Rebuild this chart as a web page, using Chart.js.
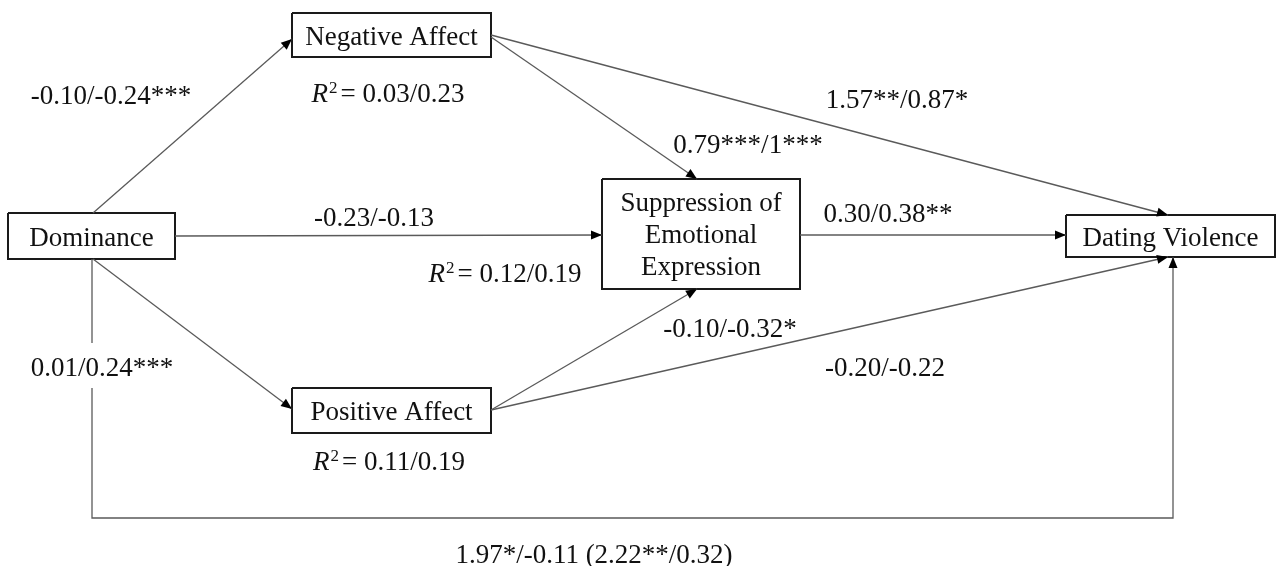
<!DOCTYPE html>
<html>
<head>
<meta charset="utf-8">
<title>Path model: dominance and dating violence</title>
<script src="https://cdn.jsdelivr.net/npm/chart.js@4"></script>
<style>
  html, body { margin: 0; padding: 0; background: #fff; }
  #wrap { width: 1280px; height: 566px; }
</style>
</head>
<body>
<div id="wrap"><canvas id="chart"></canvas></div>
<script>
// --- data ---
const nodeNames = ["Negative Affect", "Dominance", "Suppression of|Emotional|Expression", "Dating Violence", "Positive Affect"];
const pathCoefficients = ["-0.10/-0.24***", "-0.23/-0.13", "0.01/0.24***", "0.79***/1***", "1.57**/0.87*", "0.30/0.38**", "-0.10/-0.32*", "-0.20/-0.22"];
const directEffect = "1.97*/-0.11 (2.22**/0.32)";
const r2Values = ["0.03/0.23", "0.12/0.19", "0.11/0.19"];

// --- layout (diagram space = pixels, y downwards) ---
const boxes = [
  [292, 13, 491, 57],
  [8, 213, 175, 259],
  [602, 179, 800, 289],
  [1066, 215, 1275, 257],
  [292, 388, 491, 433]
];
const nodeBaselines = [[45], [246], [211, 243, 275], [246], [420]];

const routes = [
  { pts: [[93, 213], [292, 39]], arrow: true },
  { pts: [[175, 236], [602, 235]], arrow: true },
  { pts: [[93, 259], [292, 409]], arrow: true },
  { pts: [[491, 37], [697, 179]], arrow: true },
  { pts: [[491, 35], [1168, 215]], arrow: true },
  { pts: [[800, 235], [1066, 235]], arrow: true },
  { pts: [[491, 410], [697, 289]], arrow: true },
  { pts: [[491, 410], [1168, 257]], arrow: true },
  { pts: [[92, 259], [92, 343]], arrow: false },
  { pts: [[92, 388], [92, 518], [1173, 518], [1173, 257]], arrow: true }
];

const coefAnchors = [[111, 104], [374, 226], [102, 376], [748, 153], [897, 108], [888, 222], [730, 337], [885, 376]];
const directAnchor = [594, 563];
const r2Anchors = [[388, 102], [505, 282], [389, 470]];

const FONT = '"Liberation Serif", "Times New Roman", serif';
const INK = "#111";

const datasets = [];
routes.forEach((r, i) => {
  datasets.push({
    label: "path" + i,
    data: r.pts.map(p => ({ x: p[0], y: p[1] })),
    showLine: true,
    borderColor: "#5a5a5a",
    borderWidth: 1.3,
    pointRadius: 0,
    arrow: r.arrow
  });
});
boxes.forEach((b, i) => {
  datasets.push({
    label: "box" + i,
    data: [
      { x: b[0], y: b[1] }, { x: b[2], y: b[1] }, { x: b[2], y: b[3] },
      { x: b[0], y: b[3] }, { x: b[0], y: b[1] }
    ],
    showLine: true,
    borderColor: "#1a1a1a",
    borderWidth: 2,
    pointRadius: 0,
    arrow: false
  });
});

const diagramPlugin = {
  id: "diagram",
  afterDatasetsDraw(chart) {
    const ctx = chart.ctx;
    const sx = v => chart.scales.x.getPixelForValue(v);
    const sy = v => chart.scales.y.getPixelForValue(v);

    // arrowheads at the end of each path
    chart.data.datasets.forEach(ds => {
      if (!ds.arrow) return;
      const n = ds.data.length;
      const a = ds.data[n - 2], b = ds.data[n - 1];
      const x1 = sx(a.x), y1 = sy(a.y), x2 = sx(b.x), y2 = sy(b.y);
      const ang = Math.atan2(y2 - y1, x2 - x1);
      const len = 11, half = 4.5;
      ctx.save();
      ctx.translate(x2, y2);
      ctx.rotate(ang);
      ctx.beginPath();
      ctx.moveTo(0, 0);
      ctx.lineTo(-len, -half);
      ctx.lineTo(-len, half);
      ctx.closePath();
      ctx.fillStyle = "#000";
      ctx.fill();
      ctx.restore();
    });

    ctx.save();
    ctx.fillStyle = INK;
    ctx.textAlign = "center";
    ctx.textBaseline = "alphabetic";
    ctx.font = "27px " + FONT;

    // node names
    nodeNames.forEach((name, i) => {
      const b = boxes[i];
      const cx = sx((b[0] + b[2]) / 2);
      name.split("|").forEach((line, k) => {
        ctx.fillText(line, cx, sy(nodeBaselines[i][k]));
      });
    });

    // path coefficients
    pathCoefficients.forEach((t, i) => {
      ctx.fillText(t, sx(coefAnchors[i][0]), sy(coefAnchors[i][1]));
    });
    ctx.fillText(directEffect, sx(directAnchor[0]), sy(directAnchor[1]));

    // R-squared labels: italic R, superscript 2
    ctx.textAlign = "left";
    r2Values.forEach((v, i) => {
      const rest = "= " + v;
      ctx.font = "italic 27px " + FONT;
      const wR = ctx.measureText("R").width;
      ctx.font = "17px " + FONT;
      const w2 = ctx.measureText("2").width;
      ctx.font = "27px " + FONT;
      const wRest = ctx.measureText(rest).width;
      const gap = 4;
      const total = wR + w2 + gap + wRest;
      let x = sx(r2Anchors[i][0]) - total / 2;
      const y = sy(r2Anchors[i][1]);
      ctx.font = "italic 27px " + FONT;
      ctx.fillText("R", x, y);
      x += wR + 1;
      ctx.font = "17px " + FONT;
      ctx.fillText("2", x, y - 9);
      x += w2 + gap - 1;
      ctx.font = "27px " + FONT;
      ctx.fillText(rest, x, y);
    });
    ctx.restore();
  }
};

new Chart(document.getElementById("chart"), {
  type: "scatter",
  data: { datasets },
  options: {
    responsive: true,
    maintainAspectRatio: false,
    animation: false,
    layout: { padding: 0 },
    plugins: { legend: { display: false }, tooltip: { enabled: false } },
    scales: {
      x: { type: "linear", min: 0, max: 1280, display: false },
      y: { type: "linear", min: 0, max: 566, reverse: true, display: false }
    }
  },
  plugins: [diagramPlugin]
});
</script>
</body>
</html>
